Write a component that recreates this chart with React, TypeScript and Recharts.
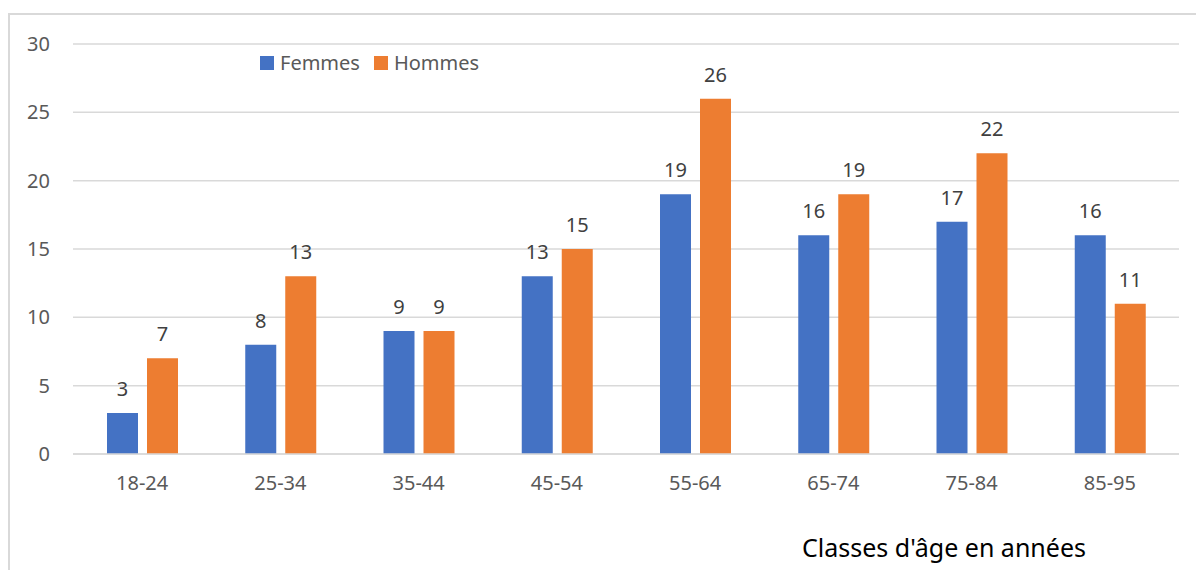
import React from "react";
import { BarChart, Bar, XAxis, YAxis, CartesianGrid, LabelList, Legend } from "recharts";

const categories = ["18-24", "25-34", "35-44", "45-54", "55-64", "65-74", "75-84", "85-95"];
const femmes = [3, 8, 9, 13, 19, 16, 17, 16];
const hommes = [7, 13, 9, 15, 26, 19, 22, 11];
const yTicks = [0, 5, 10, 15, 20, 25, 30];

const data = categories.map((c, i) => ({ cat: c, Femmes: femmes[i], Hommes: hommes[i] }));

const BLUE = "#4472C4";
const ORANGE = "#ED7D31";
const FONT = "'Noto Sans', sans-serif";

const LegendContent = () => (
  <div style={{ display: "flex", alignItems: "center", fontFamily: FONT, fontSize: 20, color: "#595959", lineHeight: 1 }}>
    <span style={{ width: 14, height: 14, background: BLUE, display: "inline-block", marginRight: 6 }} />
    <span style={{ marginRight: 14 }}>Femmes</span>
    <span style={{ width: 14, height: 14, background: ORANGE, display: "inline-block", marginRight: 6 }} />
    <span>Hommes</span>
  </div>
);

export default function App() {
  return (
    <div style={{ position: "absolute", left: 0, top: 0, width: 1196, height: 570, background: "#fff", fontFamily: FONT, overflow: "hidden" }}>
      <div style={{ position: "absolute", left: 8, top: 13, width: 1200, height: 600, borderLeft: "2px solid #d9d9d9", borderTop: "2px solid #d9d9d9" }} />
      <BarChart
        width={1196}
        height={570}
        data={data}
        margin={{ top: 44, right: 17, left: 0, bottom: 86 }}
        barSize={31}
        barGap={9}
        style={{ position: "absolute", left: 0, top: 0 }}
      >
        <CartesianGrid vertical={false} stroke="#d9d9d9" strokeWidth={1.5} />
        <XAxis
          dataKey="cat"
          height={30}
          axisLine={{ stroke: "#d9d9d9", strokeWidth: 1.5 }}
          tickLine={false}
          tickMargin={16}
          tick={{ fill: "#595959", fontSize: 20, fontFamily: FONT }}
        />
        <YAxis
          domain={[0, 30]}
          ticks={yTicks}
          width={73}
          axisLine={false}
          tickLine={false}
          tickMargin={17}
          tick={{ fill: "#595959", fontSize: 20, fontFamily: FONT }}
        />
        <Legend
          layout="horizontal"
          verticalAlign="middle"
          align="center"
          content={<LegendContent />}
          wrapperStyle={{ top: 53, left: 260, width: "auto" }}
        />
        <Bar dataKey="Femmes" fill={BLUE} isAnimationActive={false}>
          <LabelList dataKey="Femmes" position="top" offset={17} fill="#404040" fontSize={20} fontFamily={FONT} />
        </Bar>
        <Bar dataKey="Hommes" fill={ORANGE} isAnimationActive={false}>
          <LabelList dataKey="Hommes" position="top" offset={17} fill="#404040" fontSize={20} fontFamily={FONT} />
        </Bar>
      </BarChart>
      <div style={{ position: "absolute", left: 802, top: 532, fontSize: 25, lineHeight: "30px", color: "#000", fontFamily: FONT, whiteSpace: "nowrap" }}>
        Classes d'âge en années
      </div>
    </div>
  );
}
